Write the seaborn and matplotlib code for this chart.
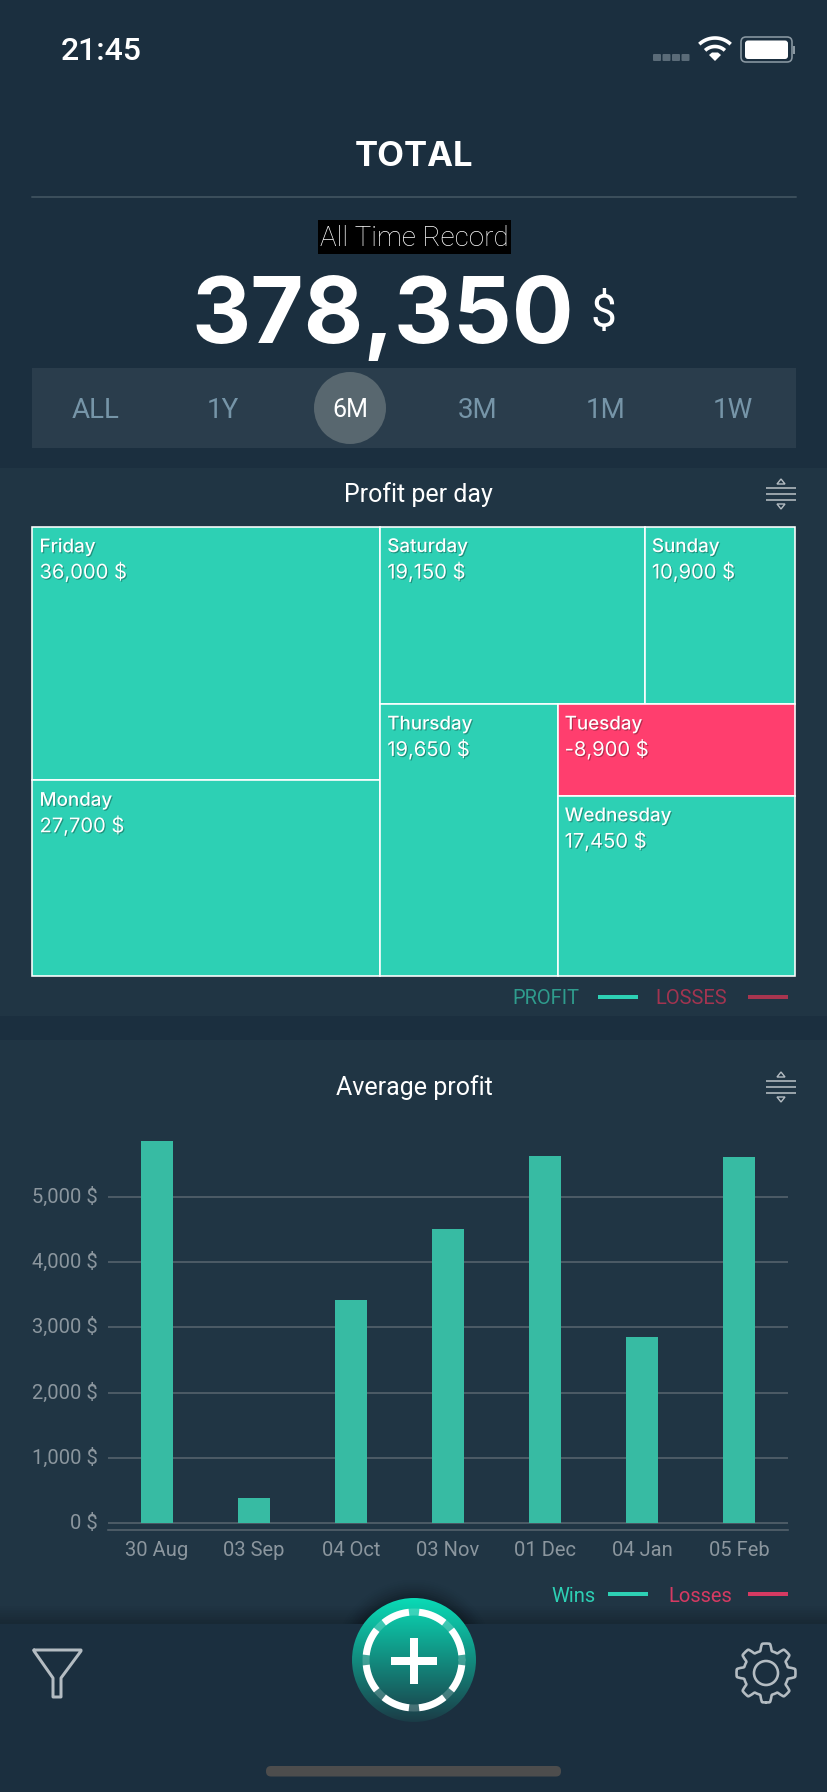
import numpy as np
import pandas as pd
import matplotlib.pyplot as plt
import matplotlib.patheffects as pe
from matplotlib.patches import Rectangle, Circle, FancyBboxPatch, Polygon
import seaborn as sns

# ── Data ───────────────────────────────────────────────────────────────────────
days       = ['Friday', 'Monday', 'Saturday', 'Sunday', 'Thursday', 'Tuesday', 'Wednesday']
day_values = [36000, 27700, 19150, 10900, 19650, -8900, 17450]

bar_dates  = ['30 Aug', '03 Sep', '04 Oct', '03 Nov', '01 Dec', '04 Jan', '05 Feb']
bar_values = [5850, 385, 3415, 4500, 5620, 2850, 5600]
y_ticks    = [0, 1000, 2000, 3000, 4000, 5000]

periods    = ['ALL', '1Y', '6M', '3M', '1M', '1W']
period_x   = [96, 223, 350, 478, 606, 733]

# squarified layout the app ended up with, rows and columns alternate per level
treemap_tree = (('Friday', 'Monday'),
                (('Saturday', 'Sunday'),
                 ('Thursday', ('Tuesday', 'Wednesday'))))

# ── Colours ────────────────────────────────────────────────────────────────────
BG       = '#1b2f3f'
PANEL    = '#203544'
STRIP    = '#2a3d4c'
TEAL     = '#2dd0b4'
RED      = '#ff3e6e'
BAR      = '#37bba3'
GRID     = '#56646e'
TICK     = '#8b969e'
ICON     = '#b4bcc2'

W, H = 828, 1792

sns.set_theme(style='white')
plt.rcParams['font.family'] = ['Roboto', 'DejaVu Sans']

fig = plt.figure(figsize=(W / 100, H / 100), dpi=100, facecolor=BG)

# full-figure axes in pixels for the app chrome around the two charts
ui = fig.add_axes([0, 0, 1, 1], zorder=0)
ui.set_xlim(0, W)
ui.set_ylim(H, 0)
ui.axis('off')


def px_axes(left, top, right, bottom, zorder=2):
    ax = fig.add_axes([left / W, 1 - bottom / H, (right - left) / W, (bottom - top) / H], zorder=zorder)
    ax.patch.set_alpha(0)
    return ax


def px(n):
    # pixels to points
    return n * 0.72


# ── Backgrounds ────────────────────────────────────────────────────────────────
ui.add_patch(Rectangle((0, 468), W, 548, color=PANEL, lw=0))
ui.add_patch(Rectangle((0, 1040), W, 584, color=PANEL, lw=0))
ui.add_patch(Rectangle((32, 368), 764, 80, color=STRIP, lw=0))

# ── Status bar ─────────────────────────────────────────────────────────────────
ui.text(61, 51, '21:45', color='white', fontsize=23, fontweight='medium', ha='left', va='center')
for x0 in [653, 662.5, 672, 681.5]:
    ui.add_patch(FancyBboxPatch((x0 + 1, 55), 6, 5, boxstyle='round,pad=1', color='#5a6b78', lw=0))
wifi_t = np.linspace(-0.75, 0.75, 30)
for r, lw in [(23, 3.6), (14.5, 3.6)]:
    ui.plot(715 + r * np.sin(wifi_t), 61 - r * np.cos(wifi_t), color='white', lw=px(lw), solid_capstyle='butt')
ui.add_patch(Polygon([[715, 61], [709, 55], [712, 52.5], [718, 52.5], [721, 55]], color='white', lw=0))
ui.add_patch(FancyBboxPatch((743, 39), 47, 21, boxstyle='round,pad=2,rounding_size=5', fc='none', ec='#8a98a2', lw=px(1.6)))
ui.add_patch(FancyBboxPatch((746, 41.5), 41, 16.5, boxstyle='round,pad=1,rounding_size=3', color='white', lw=0))
ui.add_patch(Rectangle((793.5, 46), 2, 8, color='#8a98a2', lw=0))

# ── Header ─────────────────────────────────────────────────────────────────────
ui.text(414, 157, 'TOTAL', color='white', family='Inter', fontsize=25, fontweight='bold', ha='center', va='center')
ui.plot([32, 796], [197, 197], color='#3b4e5b', lw=px(2))
ui.add_patch(Rectangle((318, 220), 193, 34, color='black', lw=0))
ui.text(414.5, 238, 'All Time Record', color='white', fontsize=20, fontweight='light', ha='center', va='center')
ui.text(383, 319, '378,350', color='white', family='Inter', fontsize=66, fontweight='bold', ha='center', va='center')
ui.text(603, 314, '$', color='white', fontsize=33, ha='center', va='center')

ui.add_patch(Circle((350, 408), 36, color='#58676f', lw=0))
for label, x0 in zip(periods, period_x):
    col = 'white' if label == '6M' else '#7695a8'
    size = 18 if label == '6M' else 20
    ui.text(x0, 410, label, color=col, fontsize=size, ha='center', va='center')


def sort_icon(cy):
    for dy in [-6.3, 0, 6.3]:
        ui.plot([766, 796], [cy + dy, cy + dy], color=ICON, lw=px(1.6), solid_capstyle='butt')
    ui.add_patch(Polygon([[781, cy - 15], [785, cy - 10], [777, cy - 10]], fc='none', ec=ICON, lw=px(1.4)))
    ui.add_patch(Polygon([[781, cy + 15], [785, cy + 10], [777, cy + 10]], fc='none', ec=ICON, lw=px(1.4)))


# ── Treemap: Profit per day ────────────────────────────────────────────────────
ui.text(418, 495, 'Profit per day', color='white', fontsize=18, ha='center', va='center')
sort_icon(494)

magnitude = dict(zip(days, np.abs(day_values)))
signed    = dict(zip(days, day_values))


def node_total(node):
    if isinstance(node, str):
        return magnitude[node]
    return sum(node_total(n) for n in node)


def layout(node, x, y, w, h, rows, out):
    # split a node along one direction by value, children split the other way
    if isinstance(node, str):
        out[node] = (x, y, w, h)
        return
    total = node_total(node)
    for child in node:
        share = node_total(child) / total
        if rows:
            layout(child, x, y, w, h * share, False, out)
            y += h * share
        else:
            layout(child, x, y, w * share, h, True, out)
            x += w * share


rects = {}
layout(treemap_tree, 0, 0, 1, 1, False, rects)

TM_L, TM_T, TM_R, TM_B = 32.5, 526.5, 795.5, 975.5
tm = px_axes(TM_L, TM_T, TM_R, TM_B)
tm.set_xlim(0, 1)
tm.set_ylim(1, 0)
tm.axis('off')
shadow = [pe.withSimplePatchShadow(offset=(0.8, -0.8), shadow_rgbFace='black', alpha=0.3)]
for name, (x, y, w, h) in rects.items():
    val = signed[name]
    tm.add_patch(Rectangle((x, y), w, h, fc=TEAL if val > 0 else RED, ec='white', lw=px(1.6), clip_on=False))
    tx = x + 7 / (TM_R - TM_L)
    t1 = tm.text(tx, y + 21 / (TM_B - TM_T), name, color='white', family='Inter', fontsize=13.5, fontweight='medium', ha='left', va='center')
    t2 = tm.text(tx, y + 46 / (TM_B - TM_T), f'{val:,} $', color='white', family='Inter', fontsize=14.5, ha='left', va='center')
    t1.set_path_effects(shadow)
    t2.set_path_effects(shadow)

ui.text(579, 998, 'PROFIT', color='#2f9c8d', fontsize=14.5, ha='right', va='center')
ui.plot([598, 638], [997, 997], color=TEAL, lw=px(4), solid_capstyle='butt')
ui.text(727, 998, 'LOSSES', color='#a23450', fontsize=14.5, ha='right', va='center')
ui.plot([748, 788], [997, 997], color='#a8354f', lw=px(4), solid_capstyle='butt')

# ── Bars: Average profit ───────────────────────────────────────────────────────
ui.text(414, 1088, 'Average profit', color='white', fontsize=18, ha='center', va='center')
sort_icon(1087)

df = pd.DataFrame({'date': bar_dates, 'profit': bar_values})
ax = px_axes(108, 1130, 788, 1530)
sns.barplot(data=df, x='date', y='profit', color=BAR, saturation=1, width=0.33, edgecolor='none', linewidth=0, ax=ax)
ax.set_xlim(-0.5, 6.5)
ax.set_ylim(-102, 6020)
ax.set_yticks(y_ticks)
ax.set_yticklabels([f'{v:,} $' for v in y_ticks], va='center')
ax.set_xlabel('')
ax.set_ylabel('')
ax.set_axisbelow(True)
ax.grid(axis='y', color=GRID, lw=px(1.6))
ax.tick_params(axis='both', length=0, labelcolor=TICK, labelsize=14.5)
ax.tick_params(axis='y', pad=px(10))
ax.tick_params(axis='x', pad=px(11))
sns.despine(ax=ax, left=True)
ax.spines['bottom'].set_color(GRID)
ax.spines['bottom'].set_linewidth(px(1.6))

ui.text(596, 1596, 'Wins', color=TEAL, fontsize=14.5, ha='right', va='center')
ui.plot([608, 648], [1594, 1594], color=TEAL, lw=px(4), solid_capstyle='butt')
ui.text(732, 1596, 'Losses', color='#d63a62', fontsize=14.5, ha='right', va='center')
ui.plot([748, 788], [1594, 1594], color='#d63a62', lw=px(4), solid_capstyle='butt')

# ── Tab bar ────────────────────────────────────────────────────────────────────
chrome = fig.add_axes([0, 0, 1, 1], zorder=3)
chrome.set_xlim(0, W)
chrome.set_ylim(H, 0)
chrome.axis('off')
chrome.patch.set_alpha(0)

chrome.add_patch(Rectangle((0, 1624), W, H - 1624, color=BG, lw=0))
# soft shadow above the bar
for i, a in enumerate(np.linspace(0.02, 0.22, 10)):
    chrome.add_patch(Rectangle((0, 1606 + i * 1.8), W, 1.8, color='black', alpha=a, lw=0))

# filter
chrome.plot([34, 81, 81, 61, 61, 53, 53, 34, 34], [1650, 1650, 1651, 1678, 1697, 1697, 1678, 1651, 1650],
            color=ICON, lw=px(3), solid_joinstyle='round')

# gear
gear_n = 8
gear_t = np.linspace(0, 2 * np.pi, gear_n * 32 + 1)
gear_r = 26 + 3.5 * np.clip(2.2 * np.cos(gear_n * gear_t), -1, 1)
chrome.plot(766 + gear_r * np.sin(gear_t), 1673 + gear_r * np.cos(gear_t), color=ICON, lw=px(2.6))
chrome.add_patch(Circle((766, 1673), 12, fc='none', ec=ICON, lw=px(2.6)))

# add button, its halo only shows above the tab bar
halo_clip = Rectangle((0, 1560), W, 64, transform=chrome.transData)
for r, a in zip(np.linspace(80, 63, 9), np.linspace(0.01, 0.06, 9)):
    halo = Circle((414, 1660), r, color='black', alpha=a, lw=0)
    chrome.add_patch(halo)
    halo.set_clip_path(halo_clip)
grad = np.linspace(0, 1, 256).reshape(-1, 1)
top_c, bot_c = np.array([0x0a, 0xdb, 0xb6]) / 255, np.array([0x1b, 0x3c, 0x47]) / 255
grad_img = top_c + (bot_c - top_c) * grad[..., None]
im = chrome.imshow(grad_img, extent=(352, 476, 1722, 1598), aspect='auto', zorder=4)
im.set_clip_path(Circle((414, 1660), 62, transform=chrome.transData))
chrome.set_xlim(0, W)
chrome.set_ylim(H, 0)
ring_t = np.linspace(0, 2 * np.pi, 200)
chrome.plot(414 + 48 * np.cos(ring_t), 1660 + 48 * np.sin(ring_t), color='white', alpha=0.2, lw=px(7), zorder=5)
for k in range(8):
    start = np.radians(6 + 45 * k)
    dash_t = np.linspace(start, start + np.radians(33), 20)
    chrome.plot(414 + 48 * np.cos(dash_t), 1660 + 48 * np.sin(dash_t), color='white', lw=px(7),
                solid_capstyle='butt', zorder=6)
chrome.add_patch(Rectangle((391, 1657), 46, 8, color='white', lw=0, zorder=7))
chrome.add_patch(Rectangle((410, 1638), 8, 46, color='white', lw=0, zorder=7))

# home indicator
chrome.add_patch(FancyBboxPatch((271, 1771), 285, 0.5, boxstyle='round,pad=5', color='#4d4d4d', lw=0))

fig.savefig('out.png', dpi=100, facecolor=BG)
